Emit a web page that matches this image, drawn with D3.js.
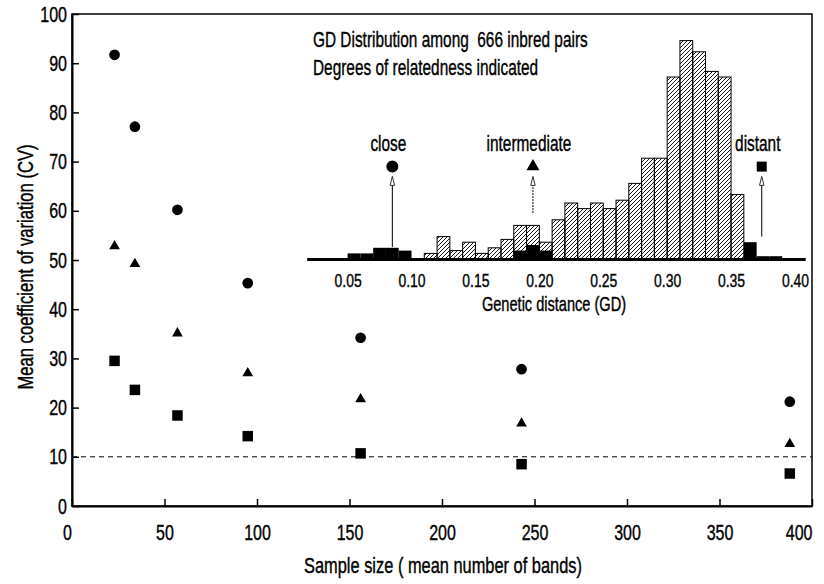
<!DOCTYPE html>
<html>
<head>
<meta charset="utf-8">
<script src="https://cdn.jsdelivr.net/npm/d3@7"></script>
<style>
  body { margin: 0; background: #fff; }
  svg { display: block; }
  text { font-family: "Liberation Sans", Arial, sans-serif; fill: #000; stroke: #000; stroke-width: 0.35px; }
</style>
</head>
<body>
<svg id="chart" width="824" height="584"></svg>
<script>
// Sample size (mean number of bands) for each point
const sampleSize = [23, 34, 57, 95, 156, 243, 388];

// Mean CV for the three degrees of relatedness
const cvClose = [91.7, 77.1, 60.2, 45.3, 34.2, 27.8, 21.2];
const cvIntermediate = [52.8, 49.2, 35.1, 27.0, 21.7, 16.8, 12.6];
const cvDistant = [29.5, 23.6, 18.4, 14.2, 10.7, 8.5, 6.6];

const xTicks = [0, 50, 100, 150, 200, 250, 300, 350, 400];
const yTicks = [0, 10, 20, 30, 40, 50, 60, 70, 80, 90, 100];
const cvThreshold = 10;

// Inset histogram: lower edge of each 0.01 GD bin and number of pairs
const allBins = [0.11, 0.12, 0.13, 0.14, 0.15, 0.16, 0.17, 0.18, 0.19, 0.20, 0.21, 0.22, 0.23,
                 0.24, 0.25, 0.26, 0.27, 0.28, 0.29, 0.30, 0.31, 0.32, 0.33, 0.34, 0.35];
const allCounts = [2, 8, 3, 6, 2, 4, 7, 12, 12, 6, 14, 20, 18,
                   20, 18, 21, 27, 36, 36, 65, 78, 74, 67, 65, 23];
// pairs picked for the three degrees of relatedness (black bars)
const pickedBins = [0.05, 0.06, 0.07, 0.08, 0.09, 0.18, 0.19, 0.20, 0.36, 0.37, 0.38];
const pickedCounts = [2, 2, 4, 4, 3, 3, 5, 3, 6, 1, 1];
const binWidth = 0.01;
const gdTicks = [0.05, 0.10, 0.15, 0.20, 0.25, 0.30, 0.35, 0.40];

// Arrows for the degrees of relatedness
const degreeLabels = ['close', 'intermediate', 'distant'];
const degreeGD = [0.085, 0.195, 0.374];
const arrowFrom = [4.3, 16.4, 8];   // in pair counts
const arrowTo = 29.5;
const markerAt = 33;
const labelAt = 38.5;

const svg = d3.select('#chart');

// the original uses a condensed face, no such font here so squeeze the text
function squeeze(sel, sx, sy) {
  sel.each(function() {
    const t = d3.select(this);
    const tx = +t.attr('x') || 0;
    const ty = +t.attr('y') || 0;
    const prev = t.attr('transform') || '';
    t.attr('x', 0).attr('y', 0)
      .attr('transform', `${prev} translate(${tx},${ty}) scale(${sx},${sy})`);
  });
}

// main plot scales
const x = d3.scaleLinear().domain([0, 400]).range([72, 812]);
const y = d3.scaleLinear().domain([0, 100]).range([506, 14]);

// inset scales
const xIn = d3.scaleLinear().domain([0.018, 0.408]).range([306.7, 805.2]);
const yIn = d3.scaleLinear().domain([0, 80]).range([259, 35]);

// hatch pattern for the histogram
const defs = svg.append('defs');
defs.append('pattern')
  .attr('id', 'hatch')
  .attr('patternUnits', 'userSpaceOnUse')
  .attr('width', 4).attr('height', 4)
  .append('path')
  .attr('d', 'M-1,1 l2,-2 M0,4 l4,-4 M3,5 l2,-2')
  .attr('stroke', '#000')
  .attr('stroke-width', 0.9);

// frame (top and right)
svg.append('rect')
  .attr('x', x(0)).attr('y', y(100))
  .attr('width', x(400) - x(0)).attr('height', y(0) - y(100))
  .attr('fill', 'none').attr('stroke', '#000').attr('stroke-width', 1.5);

// axes, ticks pointing inward
const xAxis = svg.append('g')
  .attr('transform', `translate(0,${y(0)})`)
  .call(d3.axisBottom(x).tickValues(xTicks).tickSize(-7).tickSizeOuter(0).tickPadding(18));
const yAxis = svg.append('g')
  .attr('transform', `translate(${x(0)},0)`)
  .call(d3.axisLeft(y).tickValues(yTicks).tickSize(-7).tickSizeOuter(0).tickPadding(5));

// end labels sit inside the frame, as in the original
xAxis.selectAll('.tick text')
  .attr('x', d => d === 0 ? -5 : 0)
  .attr('text-anchor', d => d === 400 ? 'end' : 'middle');

[xAxis, yAxis].forEach(g => {
  g.select('.domain').attr('stroke-width', 2);
  g.selectAll('.tick line').attr('stroke-width', 1.5);
  g.selectAll('.tick text').attr('font-size', 20).attr('font-family', null)
    .call(squeeze, 0.8, 1.1);
});

// axis titles
svg.append('text')
  .attr('x', 443).attr('y', 573)
  .attr('text-anchor', 'middle').attr('font-size', 20)
  .text('Sample size ( mean number of bands)')
  .call(squeeze, 0.82, 1.12);
svg.append('text')
  .attr('transform', 'translate(33,267) rotate(-90)')
  .attr('text-anchor', 'middle').attr('font-size', 20)
  .text('Mean coefficient of variation (CV)')
  .call(squeeze, 0.83, 1.12);

// dashed line at CV = 10
svg.append('line')
  .attr('x1', x(0)).attr('x2', x(400))
  .attr('y1', y(cvThreshold)).attr('y2', y(cvThreshold))
  .attr('stroke', '#000').attr('stroke-width', 1)
  .attr('stroke-dasharray', '5,4');

// scatter points
const series = [
  {values: cvClose, shape: d3.symbolCircle, size: 90},
  {values: cvIntermediate, shape: d3.symbolTriangle, size: 50},
  {values: cvDistant, shape: d3.symbolSquare, size: 110}
];
series.forEach(s => {
  svg.append('g').selectAll('path')
    .data(s.values)
    .enter().append('path')
    .attr('d', d3.symbol().type(s.shape).size(s.size))
    .attr('transform', (d, i) => `translate(${x(sampleSize[i])},${y(d)})`)
    .attr('fill', '#000');
});

// ---- inset histogram ----
const inset = svg.append('g');

inset.selectAll('rect.all')
  .data(allBins)
  .enter().append('rect')
  .attr('class', 'all')
  .attr('x', d => xIn(d))
  .attr('width', d => xIn(d + binWidth) - xIn(d))
  .attr('y', (d, i) => yIn(allCounts[i]))
  .attr('height', (d, i) => yIn(0) - yIn(allCounts[i]))
  .attr('fill', 'url(#hatch)')
  .attr('stroke', '#000').attr('stroke-width', 1);

inset.selectAll('rect.picked')
  .data(pickedBins)
  .enter().append('rect')
  .attr('class', 'picked')
  .attr('x', d => xIn(d))
  .attr('width', d => xIn(d + binWidth) - xIn(d))
  .attr('y', (d, i) => yIn(pickedCounts[i]))
  .attr('height', (d, i) => yIn(0) - yIn(pickedCounts[i]))
  .attr('fill', '#000');

const gdAxis = inset.append('g')
  .attr('transform', `translate(0,${yIn(0)})`)
  .call(d3.axisBottom(xIn).tickValues(gdTicks).tickFormat(d3.format('.2f')).tickSize(0).tickPadding(15));
gdAxis.select('.domain').attr('stroke-width', 3);
gdAxis.selectAll('.tick text').attr('font-size', 17).attr('font-family', null)
  .call(squeeze, 0.82, 1.1);

inset.append('text')
  .attr('x', 554).attr('y', 311)
  .attr('text-anchor', 'middle').attr('font-size', 18)
  .text('Genetic distance (GD)')
  .call(squeeze, 0.81, 1.1);

inset.append('text')
  .attr('x', 313).attr('y', 47).attr('font-size', 20)
  .attr('xml:space', 'preserve')
  .text('GD Distribution among  666 inbred pairs')
  .call(squeeze, 0.77, 1.12);
inset.append('text')
  .attr('x', 313).attr('y', 75).attr('font-size', 20)
  .text('Degrees of relatedness indicated')
  .call(squeeze, 0.77, 1.12);

// arrows, markers and labels for the degrees of relatedness
const shapes = [d3.symbolCircle, d3.symbolTriangle, d3.symbolSquare];
const shapeSizes = [113, 73, 100];
degreeGD.forEach((gd, i) => {
  const ax = xIn(gd);
  inset.append('line')
    .attr('x1', ax).attr('x2', ax)
    .attr('y1', yIn(arrowFrom[i])).attr('y2', yIn(arrowTo) + 8)
    .attr('stroke', '#000').attr('stroke-width', 1)
    .attr('stroke-dasharray', i === 1 ? '2,1' : null);
  inset.append('path')
    .attr('d', `M${ax},${yIn(arrowTo)} L${ax - 2.2},${yIn(arrowTo) + 9} L${ax + 2.2},${yIn(arrowTo) + 9} Z`)
    .attr('fill', '#fff').attr('stroke', '#000').attr('stroke-width', 0.8);
  inset.append('path')
    .attr('d', d3.symbol().type(shapes[i]).size(shapeSizes[i]))
    .attr('transform', `translate(${ax},${yIn(markerAt)})`)
    .attr('fill', '#000');
  inset.append('text')
    .attr('x', ax - 4).attr('y', yIn(labelAt))
    .attr('text-anchor', 'middle').attr('font-size', 19)
    .text(degreeLabels[i])
    .call(squeeze, 0.81, 1.12);
});
</script>
</body>
</html>
